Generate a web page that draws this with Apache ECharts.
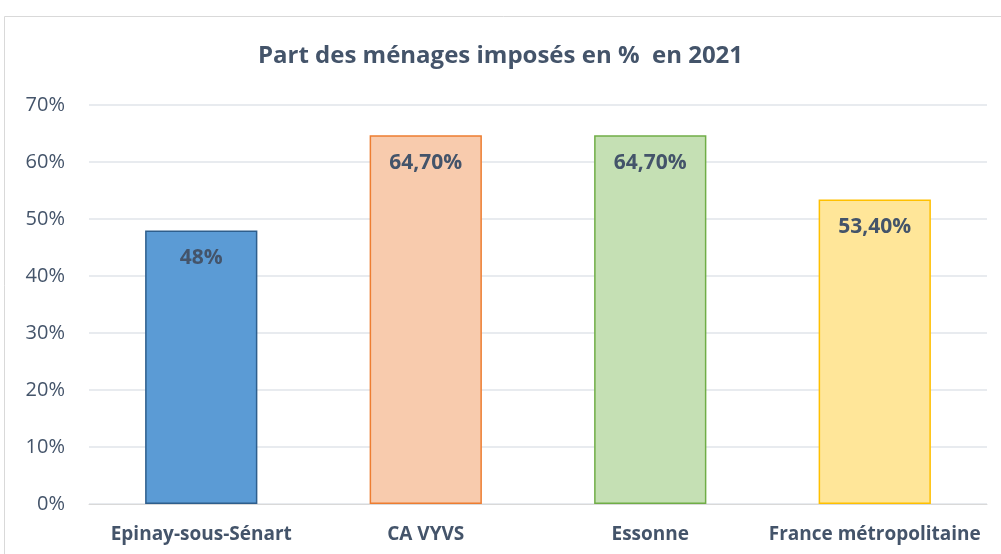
<!DOCTYPE html>
<html>
<head>
<meta charset="utf-8">
<script src="https://cdn.jsdelivr.net/npm/echarts@6/dist/echarts.min.js"></script>
<style>
  html, body { margin: 0; padding: 0; background: #fff; }
  #chart { width: 1001px; height: 554px; }
</style>
</head>
<body>
<div id="chart"></div>
<script>
// données
const categories = ['Epinay-sous-Sénart', 'CA VYVS', 'Essonne', 'France métropolitaine']
const values = [48, 64.7, 64.7, 53.4]
const valueLabels = ['48%', '64,70%', '64,70%', '53,40%']
const fillColors = ['#5B9BD5', '#F8CBAD', '#C5E0B4', '#FFE699']
const borderColors = ['#2E5E8C', '#ED7D31', '#70AD47', '#FFC000']

const textColor = '#44546A'
const font = '"Open Sans", "Noto Sans", sans-serif'

const chart = echarts.init(document.getElementById('chart'))

chart.setOption({
  animation: false,
  graphic: [
    {
      type: 'rect',
      shape: { x: 4.5, y: 16.5, width: 1010, height: 560 },
      style: { fill: 'none', stroke: '#D9D9D9', lineWidth: 1 },
      z: -1
    }
  ],
  title: {
    text: 'Part des ménages imposés en %  en 2021',
    left: 'center',
    top: 39,
    textStyle: {
      color: textColor,
      fontFamily: font,
      fontWeight: 'bold',
      fontSize: 24
    }
  },
  grid: {
    left: 89,
    right: 14,
    top: 105,
    bottom: 50
  },
  xAxis: {
    type: 'category',
    data: categories,
    axisTick: { show: false },
    axisLine: { lineStyle: { color: '#D9D9D9' } },
    axisLabel: {
      interval: 0,
      hideOverlap: false,
      color: textColor,
      fontFamily: font,
      fontWeight: 'bold',
      fontSize: 19,
      margin: 21
    }
  },
  yAxis: {
    type: 'value',
    min: 0,
    max: 70,
    interval: 10,
    axisLine: { show: false },
    axisTick: { show: false },
    splitLine: { lineStyle: { color: '#E1E4EA', width: 1.5 } },
    axisLabel: {
      formatter: '{value}%',
      color: textColor,
      fontFamily: font,
      fontSize: 20,
      margin: 24
    }
  },
  series: [
    {
      type: 'bar',
      barWidth: '50%',
      data: values.map((v, i) => ({
        value: v,
        itemStyle: {
          color: fillColors[i],
          borderColor: borderColors[i],
          borderWidth: 1.5
        },
        label: { formatter: valueLabels[i] }
      })),
      label: {
        show: true,
        position: 'insideTop',
        distance: 17,
        color: textColor,
        fontFamily: font,
        fontWeight: 'bold',
        fontSize: 21
      }
    }
  ]
})
</script>
</body>
</html>
